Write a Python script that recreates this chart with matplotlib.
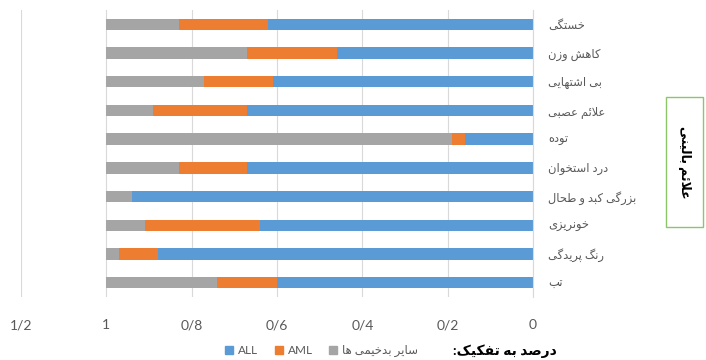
import matplotlib
matplotlib.use('Agg')
import matplotlib.pyplot as plt
from matplotlib.patches import Patch, Rectangle
from matplotlib.ticker import FuncFormatter

plt.rcParams['font.family'] = ['Lato', 'DejaVu Sans']

# علائم بالینی، از بالا به پایین
symptoms = ['خستگی', 'کاهش وزن', 'بی اشتهایی', 'علائم عصبی', 'توده',
            'درد استخوان', 'بزرگی کبد و طحال', 'خونریزی', 'رنگ پریدگی', 'تب']
all_share = [0.62, 0.46, 0.61, 0.67, 0.16, 0.67, 0.94, 0.64, 0.88, 0.60]
aml_share = [0.21, 0.21, 0.16, 0.22, 0.03, 0.16, 0.00, 0.27, 0.09, 0.14]
other_share = [0.17, 0.33, 0.23, 0.11, 0.81, 0.17, 0.06, 0.09, 0.03, 0.26]
series_names = ['ALL', 'AML', 'سایر بدخیمی ها']
axis_title = 'علائم بالینی'
legend_title = 'درصد به تفکیک:'

# matplotlib does no Arabic shaping, so pick presentation forms by hand
# (isolated, final, initial, medial)
FORMS = {
    'ا': ('\uFE8D', '\uFE8E', None, None),
    'ب': ('\uFE8F', '\uFE90', '\uFE91', '\uFE92'),
    'ت': ('\uFE95', '\uFE96', '\uFE97', '\uFE98'),
    'ح': ('\uFEA1', '\uFEA2', '\uFEA3', '\uFEA4'),
    'خ': ('\uFEA5', '\uFEA6', '\uFEA7', '\uFEA8'),
    'د': ('\uFEA9', '\uFEAA', None, None),
    'ر': ('\uFEAD', '\uFEAE', None, None),
    'ز': ('\uFEAF', '\uFEB0', None, None),
    'س': ('\uFEB1', '\uFEB2', '\uFEB3', '\uFEB4'),
    'ش': ('\uFEB5', '\uFEB6', '\uFEB7', '\uFEB8'),
    'ص': ('\uFEB9', '\uFEBA', '\uFEBB', '\uFEBC'),
    'ط': ('\uFEC1', '\uFEC2', '\uFEC3', '\uFEC4'),
    'ع': ('\uFEC9', '\uFECA', '\uFECB', '\uFECC'),
    'ف': ('\uFED1', '\uFED2', '\uFED3', '\uFED4'),
    'ل': ('\uFEDD', '\uFEDE', '\uFEDF', '\uFEE0'),
    'م': ('\uFEE1', '\uFEE2', '\uFEE3', '\uFEE4'),
    'ن': ('\uFEE5', '\uFEE6', '\uFEE7', '\uFEE8'),
    'ه': ('\uFEE9', '\uFEEA', '\uFEEB', '\uFEEC'),
    'و': ('\uFEED', '\uFEEE', None, None),
    'ئ': ('\uFE89', '\uFE8A', '\uFE8B', '\uFE8C'),
    'پ': ('\uFB56', '\uFB57', '\uFB58', '\uFB59'),
    'ک': ('\uFB8E', '\uFB8F', '\uFB90', '\uFB91'),
    'گ': ('\uFB92', '\uFB93', '\uFB94', '\uFB95'),
    'ی': ('\uFBFC', '\uFBFD', '\uFBFE', '\uFBFF'),
}


def fa(text):
    out = []
    i, n = 0, len(text)
    while i < n:
        c = text[i]
        if c not in FORMS:
            out.append(c)
            i += 1
            continue
        prev = i > 0 and text[i - 1] in FORMS and FORMS[text[i - 1]][2] is not None
        if c == 'ل' and i + 1 < n and text[i + 1] == 'ا':
            out.append('\uFEFC' if prev else '\uFEFB')
            i += 2
            continue
        iso, fin, ini, med = FORMS[c]
        nxt = ini is not None and i + 1 < n and text[i + 1] in FORMS
        if prev and nxt:
            out.append(med)
        elif prev:
            out.append(fin)
        elif nxt:
            out.append(ini)
        else:
            out.append(iso)
        i += 1
    return ''.join(reversed(out))


blue = '#5B9BD5'
orange = '#ED7D31'
gray = '#A5A5A5'
text_gray = '#595959'

fig = plt.figure(figsize=(7.06, 3.6), dpi=100)
ax = fig.add_axes([21 / 706, 1 - 297 / 360, 512 / 706, 287 / 360])

y = list(range(len(symptoms)))
left_aml = [a for a in all_share]
left_other = [a + b for a, b in zip(all_share, aml_share)]
h = 0.4
ax.barh(y, all_share, height=h, color=blue, zorder=2)
ax.barh(y, aml_share, left=left_aml, height=h, color=orange, zorder=2)
ax.barh(y, other_share, left=left_other, height=h, color=gray, zorder=2)

ax.set_xlim(1.2, 0)
ax.set_ylim(len(symptoms) - 0.5, -0.5)
ax.set_xticks([0, 0.2, 0.4, 0.6, 0.8, 1.0, 1.2])
ax.xaxis.set_major_formatter(FuncFormatter(lambda v, p: f'{v:g}'.replace('.', '/')))
ax.grid(axis='x', color='#D9D9D9', lw=0.8, zorder=0)

ax.yaxis.tick_right()
ax.set_yticks(y)
ax.set_yticklabels([fa(s) for s in symptoms])
ax.tick_params(axis='y', length=0, pad=11, labelsize=8.3, labelcolor=text_gray)
ax.tick_params(axis='x', length=0, pad=16, labelsize=10, labelcolor=text_gray)
for side in ['left', 'top', 'bottom']:
    ax.spines[side].set_visible(False)
ax.spines['right'].set_color('#D9D9D9')

# عنوان محور در کادر سبز
fig.patches.append(Rectangle((666 / 706, 1 - 227 / 360), 37 / 706, 130 / 360,
                             transform=fig.transFigure, fill=False,
                             edgecolor='#8CC56A', lw=1))
fig.text(684.5 / 706, 1 - 162 / 360, fa(axis_title), rotation=-90,
         ha='center', va='center', fontsize=9, fontweight='bold', color='black')

handles = [Patch(color=blue), Patch(color=orange), Patch(color=gray)]
labels = [series_names[0], series_names[1], fa(series_names[2])]
leg = fig.legend(handles, labels, ncol=3, loc='center right',
                 bbox_to_anchor=(424 / 706, 1 - 351 / 360), frameon=False,
                 fontsize=8.5, handlelength=0.7, handleheight=0.7,
                 handletextpad=0.4, columnspacing=1.4, borderpad=0)
for t in leg.get_texts():
    t.set_color(text_gray)
fig.text(557 / 706, 1 - 351 / 360, fa(legend_title), ha='right', va='center',
         fontsize=10, fontweight='bold', color='black')

fig.savefig('out.png', dpi=100)
